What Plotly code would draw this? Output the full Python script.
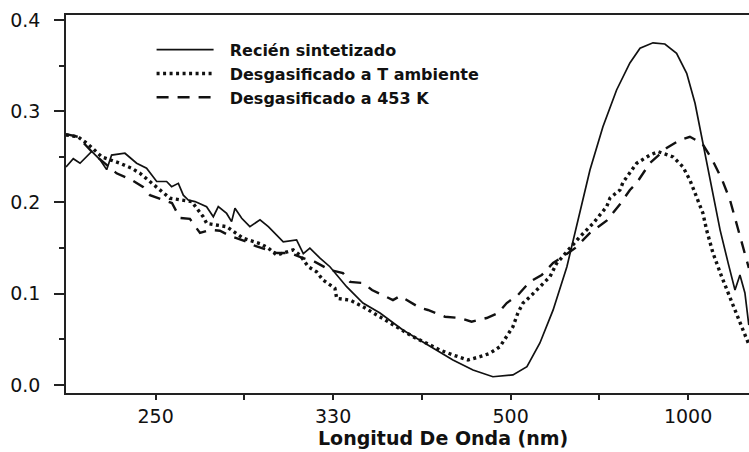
import plotly.graph_objects as go

# x values are in the chart's axis units (tick 250 nm -> 4, 330 -> 3, 500 -> 2, 1000 -> 1)
tick_vals = [4, 3, 2, 1]
tick_text = ["250", "330", "500", "1000"]
minor_vals = [3.5, 2.5, 1.5]

names = ["Recién sintetizado", "Desgasificado a T ambiente", "Desgasificado a 453 K"]

x_recien = [4.505, 4.464, 4.426, 4.360, 4.314, 4.276, 4.248, 4.173, 4.107, 4.051, 3.994, 3.938, 3.910, 3.872,
            3.844, 3.816, 3.778, 3.713, 3.675, 3.647, 3.600, 3.572, 3.553, 3.515, 3.469, 3.412, 3.365, 3.318,
            3.281, 3.206, 3.168, 3.131, 3.074, 3.018, 2.924, 2.832, 2.736, 2.607, 2.454, 2.325, 2.212, 2.100,
            1.987, 1.908, 1.835, 1.761, 1.683, 1.609, 1.553, 1.480, 1.403, 1.328, 1.271, 1.198, 1.131, 1.065,
            1.008, 0.961, 0.924, 0.886, 0.849, 0.820, 0.774, 0.736, 0.708, 0.680, 0.658]
y_recien = [0.239, 0.248, 0.243, 0.256, 0.247, 0.236, 0.252, 0.254, 0.243, 0.2375, 0.223, 0.223, 0.2173, 0.221,
            0.208, 0.2027, 0.201, 0.1954, 0.1844, 0.1954, 0.188, 0.179, 0.1936, 0.1827, 0.1735, 0.181, 0.1735,
            0.1644, 0.157, 0.159, 0.144, 0.150, 0.139, 0.1296, 0.1077, 0.0898, 0.0789, 0.0603, 0.042, 0.0274,
            0.0164, 0.009, 0.011, 0.020, 0.046, 0.082, 0.1296, 0.1885, 0.2356, 0.283, 0.3233, 0.353, 0.369,
            0.375, 0.3737, 0.3635, 0.3416, 0.3087, 0.272, 0.232, 0.1954, 0.170, 0.1333, 0.104, 0.1205, 0.1008,
            0.0657]

x_tamb = [4.505, 4.438, 4.381, 4.304, 4.201, 4.135, 4.088, 4.042, 3.976, 3.919, 3.797, 3.769, 3.732, 3.712,
          3.600, 3.506, 3.412, 3.365, 3.318, 3.225, 3.187, 3.140, 3.093, 3.057, 2.990, 2.980, 2.905, 2.832,
          2.736, 2.642, 2.550, 2.473, 2.398, 2.325, 2.240, 2.173, 2.117, 2.060, 2.022, 1.987, 1.959, 1.930,
          1.891, 1.853, 1.818, 1.778, 1.741, 1.684, 1.609, 1.536, 1.459, 1.440, 1.384, 1.367, 1.290, 1.215,
          1.168, 1.085, 1.029, 0.990, 0.952, 0.917, 0.896, 0.860, 0.811, 0.764, 0.727, 0.691, 0.661]
y_tamb = [0.274, 0.272, 0.264, 0.250, 0.243, 0.2375, 0.232, 0.2246, 0.2137, 0.2046, 0.201, 0.1936, 0.1844, 0.177,
          0.1735, 0.1607, 0.155, 0.150, 0.1424, 0.148, 0.1424, 0.1296, 0.124, 0.115, 0.106, 0.095, 0.093,
          0.0858, 0.0748, 0.0639, 0.0529, 0.0457, 0.0383, 0.0329, 0.0274, 0.031, 0.0347, 0.042, 0.053, 0.0639,
          0.0789, 0.0898, 0.0967, 0.104, 0.1118, 0.1187, 0.1333, 0.146, 0.1625, 0.177, 0.1954, 0.205, 0.2137,
          0.222, 0.243, 0.252, 0.2557, 0.250, 0.239, 0.2246, 0.206, 0.1885, 0.170, 0.1446, 0.1187, 0.0967,
          0.0789, 0.0603, 0.046]

x_453 = [4.505, 4.438, 4.342, 4.220, 4.135, 4.071, 4.032, 3.959, 3.908, 3.863, 3.807, 3.750, 3.694, 3.638,
         3.581, 3.497, 3.452, 3.384, 3.316, 3.243, 3.187, 3.102, 3.018, 2.945, 2.905, 2.832, 2.781, 2.698,
         2.663, 2.623, 2.585, 2.510, 2.466, 2.370, 2.285, 2.220, 2.135, 2.071, 2.022, 1.959, 1.891, 1.825,
         1.761, 1.705, 1.637, 1.553, 1.459, 1.384, 1.328, 1.290, 1.215, 1.121, 1.046, 0.990, 0.922, 0.866,
         0.810, 0.764, 0.725, 0.697, 0.658]
y_453 = [0.275, 0.272, 0.252, 0.232, 0.2246, 0.217, 0.208, 0.2027, 0.1994, 0.183, 0.182, 0.1666, 0.170, 0.169,
         0.1633, 0.1578, 0.1534, 0.149, 0.1446, 0.1446, 0.1403, 0.1348, 0.126, 0.1227, 0.1129, 0.1118, 0.1041,
         0.0964, 0.093, 0.0975, 0.093, 0.0844, 0.0822, 0.0748, 0.0734, 0.0694, 0.0734, 0.0789, 0.0898, 0.0986,
         0.1132, 0.1205, 0.1337, 0.1406, 0.150, 0.1666, 0.180, 0.198, 0.2137, 0.2214, 0.2433, 0.2597, 0.2685,
         0.272, 0.265, 0.2477, 0.2257, 0.2027, 0.1753, 0.1556, 0.1282]

INK = "#111111"
PAD = "\u00a0\u00a0"  # small gap between legend sample and its label
fig = go.Figure()
fig.add_trace(go.Scatter(x=x_recien, y=y_recien, mode="lines", name=PAD + names[0],
                         line=dict(color=INK, width=1.7)))
fig.add_trace(go.Scatter(x=x_tamb, y=y_tamb, mode="lines", name=PAD + names[1],
                         line=dict(color=INK, width=3.4, dash="3px,3.5px")))
fig.add_trace(go.Scatter(x=x_453, y=y_453, mode="lines", name=PAD + names[2],
                         line=dict(color=INK, width=2.4, dash="12px,9px")))

fig.update_layout(
    width=749, height=452,
    margin=dict(l=66, r=0, t=15, b=59),
    paper_bgcolor="white", plot_bgcolor="white",
    font=dict(family="DejaVu Sans", color=INK),
    showlegend=True,
    legend=dict(x=0.1253, y=0.953, xanchor="left", yanchor="top",
                bgcolor="rgba(0,0,0,0)", itemwidth=57,
                font=dict(family="DejaVu Sans", size=16, color=INK, weight="bold"),
                tracegroupgap=0),
    xaxis=dict(range=[4.505, 0.657], showgrid=False, zeroline=False,
               showline=True, linecolor="#222", linewidth=1.6, mirror=True,
               ticks="outside", ticklen=5, tickwidth=1.5, tickcolor="#222",
               tickmode="array", tickvals=tick_vals, ticktext=tick_text,
               tickfont=dict(family="DejaVu Sans", size=19, color=INK),
               minor=dict(tickmode="array", tickvals=minor_vals, ticks="outside",
                          ticklen=5, tickwidth=1.5, tickcolor="#222")),
    yaxis=dict(range=[-0.0088, 0.4055], showgrid=False, zeroline=False,
               showline=True, linecolor="#222", linewidth=1.6,
               ticks="outside", ticklen=10, tickwidth=1.5, tickcolor="#222",
               tickmode="array", tickvals=[0.0, 0.1, 0.2, 0.3, 0.4],
               ticktext=["0.0", "0.1", "0.2", "0.3", "0.4"],
               ticklabelstandoff=10,
               tickfont=dict(family="DejaVu Sans", size=19, color=INK),
               minor=dict(tickmode="array", tickvals=[0.05, 0.15, 0.25, 0.35], ticks="outside",
                          ticklen=5, tickwidth=1.5, tickcolor="#222")),
    annotations=[dict(text="<b>Longitud De Onda (nm)</b>", xref="paper", yref="paper",
                      x=0.5527, y=-0.119, xanchor="center", yanchor="middle", showarrow=False,
                      font=dict(family="DejaVu Sans", size=19, color=INK))],
)

fig.write_html("out.html")
